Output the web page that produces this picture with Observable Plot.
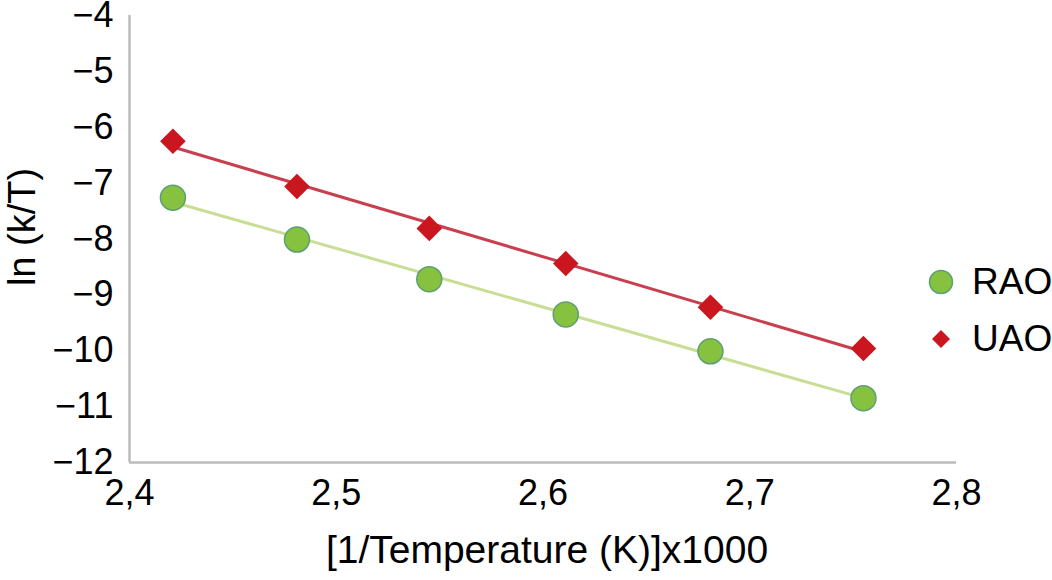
<!DOCTYPE html>
<html>
<head>
<meta charset="utf-8">
<script src="https://cdn.jsdelivr.net/npm/d3@7"></script>
<script src="https://cdn.jsdelivr.net/npm/@observablehq/plot@0.6"></script>
<style>
  html, body { margin: 0; padding: 0; background: #fff; }
  #wrap { position: relative; width: 1052px; height: 580px; font-family: "Liberation Sans", Arial, sans-serif; }
  #legend { position: absolute; left: 925px; top: 253px; }
  .item { display: flex; align-items: center; height: 57px; font-size: 37px; color: #000; }
  .item svg { width: 32px; height: 32px; margin-right: 15px; }
</style>
</head>
<body>
<div id="wrap"></div>
<script>
// Inverse temperature ×1000 (1/K)
const xValues = [2.421, 2.481, 2.545, 2.611, 2.681, 2.755];
// ln(k/T) per series
const raoValues = [-7.26, -8.01, -8.72, -9.35, -10.01, -10.85];
const uaoValues = [-6.25, -7.06, -7.81, -8.44, -9.22, -9.96];
const seriesNames = ["RAO", "UAO"];
const xTicks = [2.4, 2.5, 2.6, 2.7, 2.8];
const xTickLabels = ["2,4", "2,5", "2,6", "2,7", "2,8"];
const yTicks = [-12, -11, -10, -9, -8, -7, -6, -5, -4];
const yTickLabels = ["−12", "−11", "−10", "−9", "−8", "−7", "−6", "−5", "−4"];

const rao = xValues.map((x, i) => ({x, y: raoValues[i], s: seriesNames[0]}));
const uao = xValues.map((x, i) => ({x, y: uaoValues[i], s: seriesNames[1]}));

const colors = {
  raoFill: "#86c23f", raoStroke: "#5c9f74", raoLine: "#c9de95",
  uaoFill: "#c9161f", uaoLine: "#c8404f", axis: "#bcbcbc"
};

const chart = Plot.plot({
  width: 1052,
  height: 580,
  marginLeft: 129,
  marginRight: 96,
  marginTop: 15,
  marginBottom: 118,
  style: {fontFamily: "'Liberation Sans', Arial, sans-serif", background: "#fff", color: "#000", overflow: "visible"},
  x: {domain: [2.4, 2.8]},
  y: {domain: [-12, -4]},
  marks: [
    Plot.axisY({ticks: yTicks, tickFormat: (d, i) => yTickLabels[i], tickSize: 0, tickPadding: 16, fontSize: 36, label: null}),
    Plot.axisX({ticks: xTicks, tickFormat: (d, i) => xTickLabels[i], tickSize: 0, tickPadding: 17, fontSize: 36, label: null}),
    Plot.ruleX([2.4], {stroke: colors.axis, strokeWidth: 2.5}),
    Plot.ruleY([-12], {stroke: colors.axis, strokeWidth: 2.5}),
    Plot.linearRegressionY(rao, {x: "x", y: "y", stroke: colors.raoLine, strokeWidth: 3, ci: 0}),
    Plot.linearRegressionY(uao, {x: "x", y: "y", stroke: colors.uaoLine, strokeWidth: 3, ci: 0}),
    Plot.dot(rao, {x: "x", y: "y", r: 12.5, fill: colors.raoFill, stroke: colors.raoStroke, strokeWidth: 1.5}),
    Plot.dot(uao, {x: "x", y: "y", symbol: "diamond2", r: 11.5, fill: colors.uaoFill}),
    Plot.text(["ln (k/T)"], {frameAnchor: "left", textAnchor: "middle", lineAnchor: "middle", rotate: -90, dx: -107, dy: -12, fontSize: 38, fill: "#000"}),
    Plot.text(["[1/Temperature (K)]x1000"], {frameAnchor: "bottom", textAnchor: "middle", lineAnchor: "middle", dx: 4, dy: 88, fontSize: 39, fill: "#000"})
  ]
});

const wrap = document.getElementById("wrap");
wrap.appendChild(chart);

const legend = document.createElement("div");
legend.id = "legend";
legend.innerHTML = `
  <div class="item"><svg viewBox="-16 -16 32 32"><circle r="11.5" fill="${colors.raoFill}" stroke="${colors.raoStroke}" stroke-width="1.5"/></svg>${seriesNames[0]}</div>
  <div class="item"><svg viewBox="-16 -16 32 32"><path d="M0,-9L9,0L0,9L-9,0Z" fill="${colors.uaoFill}"/></svg>${seriesNames[1]}</div>`;
wrap.appendChild(legend);
</script>
</body>
</html>
